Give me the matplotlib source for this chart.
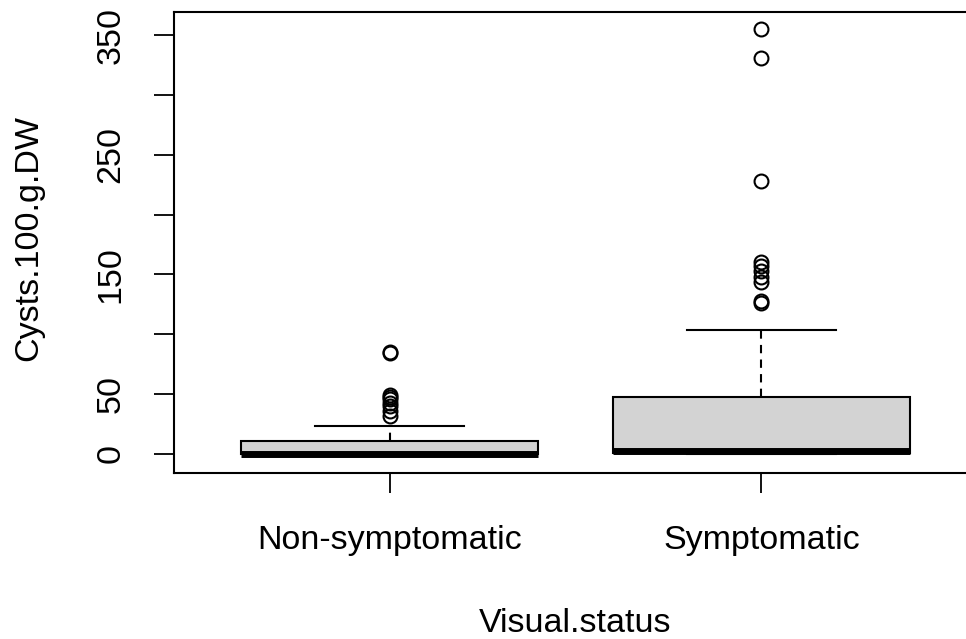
import matplotlib
matplotlib.use("Agg")
import matplotlib.pyplot as plt

categories = ["Non-symptomatic", "Symptomatic"]
q1 = [0, 0.5]
median = [0, 2.5]
q3 = [11, 48]
whisker_low = [0, 0]
whisker_high = [23.5, 103.5]
outliers_non = [85, 84, 49, 48, 46, 43, 40, 36, 32]
outliers_sym = [355, 331, 228, 160, 157, 153, 148, 144, 128, 126]
yticks = [0, 50, 100, 150, 200, 250, 300, 350]
ytick_labels = ["0", "50", "", "150", "", "250", "", "350"]

plt.rcParams['font.family'] = ['Liberation Sans', 'DejaVu Sans']

W, H = 966, 639
AX_L, AX_R, AX_T, AX_B = 174, 977, 12, 473
fig = plt.figure(figsize=(W / 100, H / 100), dpi=100)
ax = fig.add_axes([AX_L / W, (H - AX_B) / H, (AX_R - AX_L) / W, (AX_B - AX_T) / H])

fliers = [outliers_non, outliers_sym]
stats = []
for i, c in enumerate(categories):
    stats.append(dict(label=c, q1=q1[i], med=median[i], q3=q3[i],
                      whislo=whisker_low[i], whishi=whisker_high[i],
                      fliers=fliers[i]))

ax.bxp(stats, positions=[1, 2], widths=0.8, patch_artist=True,
       boxprops=dict(facecolor="#d3d3d3", edgecolor="black", linewidth=1.5),
       medianprops=dict(color="black", linewidth=5, solid_capstyle="butt"),
       whiskerprops=dict(color="black", linewidth=1.5, linestyle=(0, (4, 3))),
       capprops=dict(color="black", linewidth=1.5),
       flierprops=dict(marker="o", markerfacecolor="none", markeredgecolor="black",
                       markersize=10, markeredgewidth=1.5),
       capwidths=0.4)

FS = 24.5
ax.set_xlim(0.42, 2.58)
ax.set_ylim(-15.9, 369.3)
ax.set_yticks(yticks)
ax.set_yticklabels(ytick_labels, rotation=90, va="center")
ax.set_xticks([1, 2])
ax.set_xticklabels(categories)
ax.tick_params(axis="both", length=14.4, width=1.3, labelsize=FS, colors="black")
ax.tick_params(axis="y", pad=20)
ax.tick_params(axis="x", pad=23)
for s in ax.spines.values():
    s.set_linewidth(1.5)

axw, axh = AX_R - AX_L, AX_B - AX_T
ax.set_xlabel("Visual.status", fontsize=FS, va="baseline")
ax.xaxis.set_label_coords(0.5, (AX_B - 632) / axh)
ax.set_ylabel("Cysts.100.g.DW", fontsize=FS, va="baseline")
ax.yaxis.set_label_coords((37 - AX_L) / axw, (AX_B - 238) / axh)

fig.savefig("out.png", dpi=100)
